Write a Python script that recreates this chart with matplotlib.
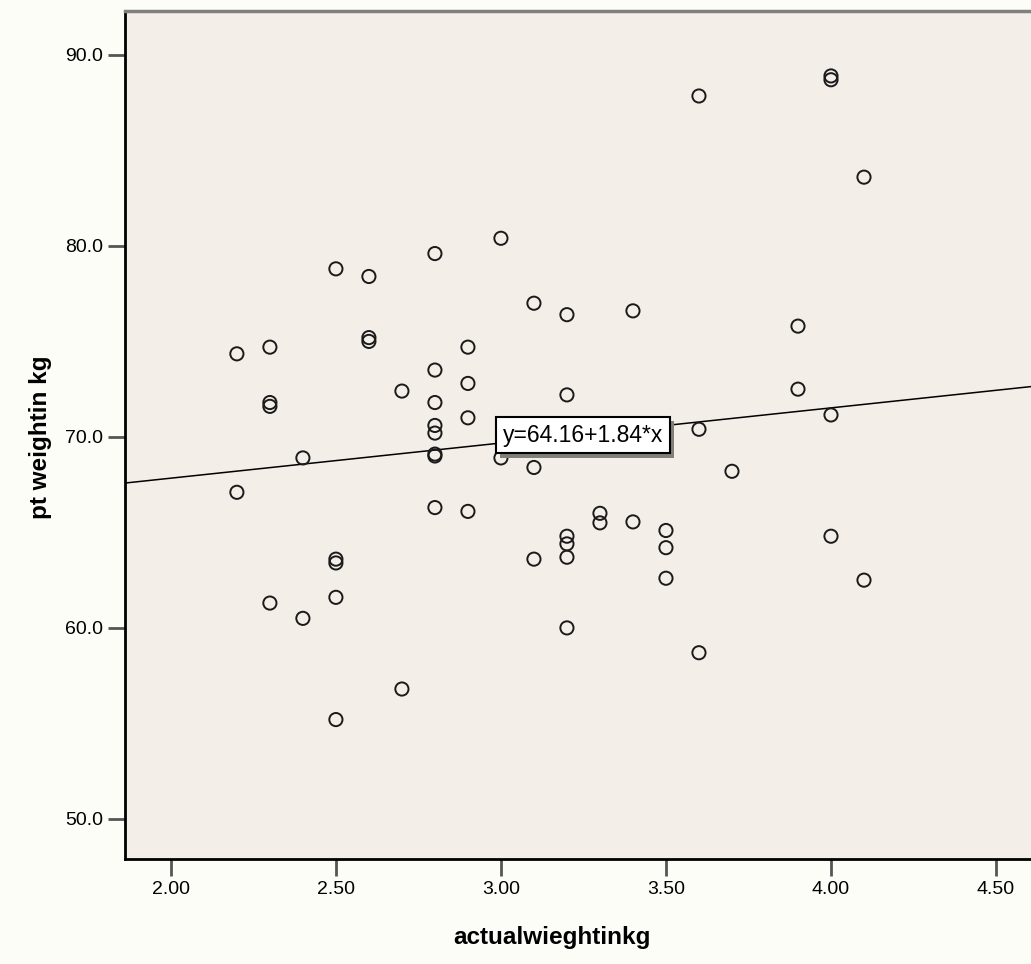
import matplotlib.pyplot as plt
import matplotlib.patheffects as pe
import numpy as np

actual_kg = [2.2, 2.2, 2.3, 2.3, 2.3, 2.3, 2.4, 2.4,
             2.5, 2.5, 2.5, 2.5, 2.5, 2.6, 2.6, 2.6, 2.7, 2.7,
             2.8, 2.8, 2.8, 2.8, 2.8, 2.8, 2.8, 2.8,
             2.9, 2.9, 2.9, 2.9, 3.0, 3.0,
             3.1, 3.1, 3.1, 3.2, 3.2, 3.2, 3.2, 3.2, 3.2,
             3.3, 3.3, 3.4, 3.4, 3.5, 3.5, 3.5,
             3.6, 3.6, 3.6, 3.7, 3.9, 3.9,
             4.0, 4.0, 4.0, 4.0, 4.1, 4.1]
pt_kg = [74.35, 67.1, 74.7, 71.8, 71.6, 61.3, 68.9, 60.5,
         78.8, 63.6, 63.4, 61.6, 55.2, 78.4, 75.2, 75.0, 72.4, 56.8,
         79.6, 73.5, 71.8, 70.6, 70.2, 69.0, 69.1, 66.3,
         74.7, 72.8, 71.0, 66.1, 80.4, 68.9,
         77.0, 68.4, 63.6, 76.4, 72.2, 64.8, 64.4, 63.7, 60.0,
         66.0, 65.5, 76.6, 65.55, 65.1, 64.2, 62.6,
         87.85, 70.4, 58.7, 68.2, 75.8, 72.5,
         88.9, 88.7, 71.15, 64.8, 83.6, 62.5]

intercept = 64.16
slope = 1.84
fit_label = "y=64.16+1.84*x"

x_ticks = [2.0, 2.5, 3.0, 3.5, 4.0, 4.5]
y_ticks = [50.0, 60.0, 70.0, 80.0, 90.0]

fig = plt.figure(figsize=(10.31, 9.64), dpi=100, facecolor="#FDFDF7")
ax = fig.add_axes([125 / 1031, 105 / 964, 906 / 1031, 848 / 964])
ax.set_facecolor("#F4EEE9")

xmin, xmax = 1.861, 4.606
ax.set_xlim(xmin, xmax)
ax.set_ylim(47.9, 92.3)

line_x = np.array([xmin, xmax])
ax.plot(line_x, intercept + slope * line_x, color="black", lw=1.1, zorder=2)

ax.scatter(actual_kg, pt_kg, s=90, facecolors="none", edgecolors="#1a1a1a",
           linewidths=1.4, zorder=3)

# equation label, grey drop shadow on the box like SPSS
eq = ax.text(3.248, 70.1, fit_label, fontsize=16.5, family="Liberation Sans",
             ha="center", va="center", zorder=5,
             bbox=dict(boxstyle="square,pad=0.3", facecolor="white",
                       edgecolor="black", lw=1.5))
eq.get_bbox_patch().set_path_effects([
    pe.SimplePatchShadow(offset=(3, -3), shadow_rgbFace="#808078", alpha=1),
    pe.Normal()])

ax.set_xticks(x_ticks)
ax.set_xticklabels([f"{v:.2f}" for v in x_ticks])
ax.set_yticks(y_ticks)
ax.set_yticklabels([f"{v:.1f}" for v in y_ticks])
ax.tick_params(direction="out", length=12, width=2, color="#555555",
               labelsize=14, pad=4)
for lab in ax.get_xticklabels() + ax.get_yticklabels():
    lab.set_family("Liberation Sans")

ax.spines["right"].set_visible(False)
ax.spines["top"].set_color("#808080")
ax.spines["top"].set_linewidth(2.5)
ax.spines["left"].set_linewidth(2)
ax.spines["bottom"].set_linewidth(2)

ax.set_xlabel("actualwieghtinkg", fontsize=17.5, fontweight="bold",
              family="Liberation Sans")
ax.set_ylabel("pt weightin kg", fontsize=17.5, fontweight="bold",
              family="Liberation Sans")
ax.xaxis.set_label_coords((552 - 125) / 906, -(926 - 859) / 848)
ax.yaxis.set_label_coords(-(125 - 52) / 906, (859 - 437) / 848)

fig.savefig("out.png", dpi=100, facecolor=fig.get_facecolor())
